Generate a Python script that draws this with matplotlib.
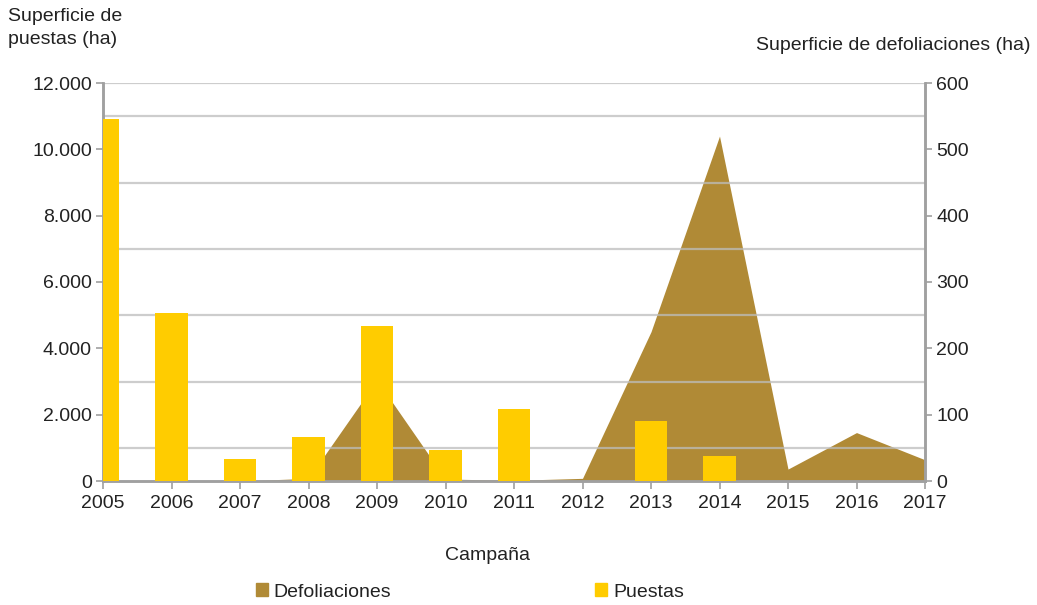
import matplotlib
matplotlib.use("Agg")
import matplotlib.pyplot as plt
from matplotlib.ticker import FuncFormatter
from matplotlib.patches import Patch

plt.rcParams['font.family'] = ['Liberation Sans', 'DejaVu Sans']

years = [2005, 2006, 2007, 2008, 2009, 2010, 2011, 2012, 2013, 2014, 2015, 2016, 2017]
puestas = [10900, 5060, 660, 1330, 4670, 930, 2170, 0, 1820, 750, 0, 0, 0]
defoliaciones = [0, 0, 0, 4, 152, 3, 1, 4, 225, 520, 18, 73, 32]

left_ticks = [0, 2000, 4000, 6000, 8000, 10000, 12000]
right_ticks = [0, 100, 200, 300, 400, 500, 600]

YELLOW = '#FFCC00'
BROWN = '#B08A36'
GRID = '#BDBDBD'
AXC = '#A0A0A0'
TXT = '#222222'
FS = 14

fig = plt.figure(figsize=(10.37, 6.05), dpi=100)
ax = fig.add_axes([103/1037, 1-481/605, (925-103)/1037, (481-83)/605])
ax2 = ax.twinx()

# area (right axis), behind
ax2.fill_between(years, defoliaciones, 0, color=BROWN, linewidth=0, zorder=1, label='Defoliaciones')
for v in [50, 150, 250, 350, 450, 550, 600]:
    ax2.axhline(v, color=GRID, lw=1.6, alpha=0.75, zorder=2)
ax2.set_ylim(0, 600)
ax2.set_yticks(right_ticks)

# bars (left axis), on top
ax.set_zorder(ax2.get_zorder() + 1)
ax.patch.set_visible(False)
ax.bar(years, puestas, width=0.48, color=YELLOW, zorder=3, label='Puestas')
ax.set_ylim(0, 12000)
ax.set_xlim(2005, 2017)
ax.set_yticks(left_ticks)
ax.yaxis.set_major_formatter(FuncFormatter(lambda v, p: f"{int(v):,}".replace(',', '.')))
ax.set_xticks(years)
ax.set_xticklabels([str(y) for y in years])

for a in (ax, ax2):
    for s in a.spines.values():
        s.set_color(AXC)
        s.set_linewidth(1.8)
    a.spines['top'].set_visible(False)
    a.tick_params(colors=AXC, labelcolor=TXT, labelsize=FS, width=1.2, length=5)
ax.tick_params(axis='x', pad=4, length=6)
ax.tick_params(axis='y', pad=3)
ax2.tick_params(axis='y', pad=3)

fig.text(8/1037, 1-8/605, "Superficie de\npuestas (ha)", ha='left', va='top', fontsize=FS, color=TXT, linespacing=1.45)
fig.text(1030/1037, 1-45/605, "Superficie de defoliaciones (ha)", ha='right', va='center', fontsize=FS, color=TXT)
fig.text(487/1037, 1-555/605, "Campaña", ha='center', va='center', fontsize=FS, color=TXT)

handles = [Patch(color=BROWN, label='Defoliaciones'), Patch(color=YELLOW, label='Puestas')]
fig.legend(handles=handles, loc='center', bbox_to_anchor=(470/1037, 1-592/605), ncol=2,
           frameon=False, fontsize=FS, handlelength=0.6, handleheight=0.6, handletextpad=0.3,
           columnspacing=10.5, labelcolor=TXT)

fig.savefig('out.png', dpi=100)
